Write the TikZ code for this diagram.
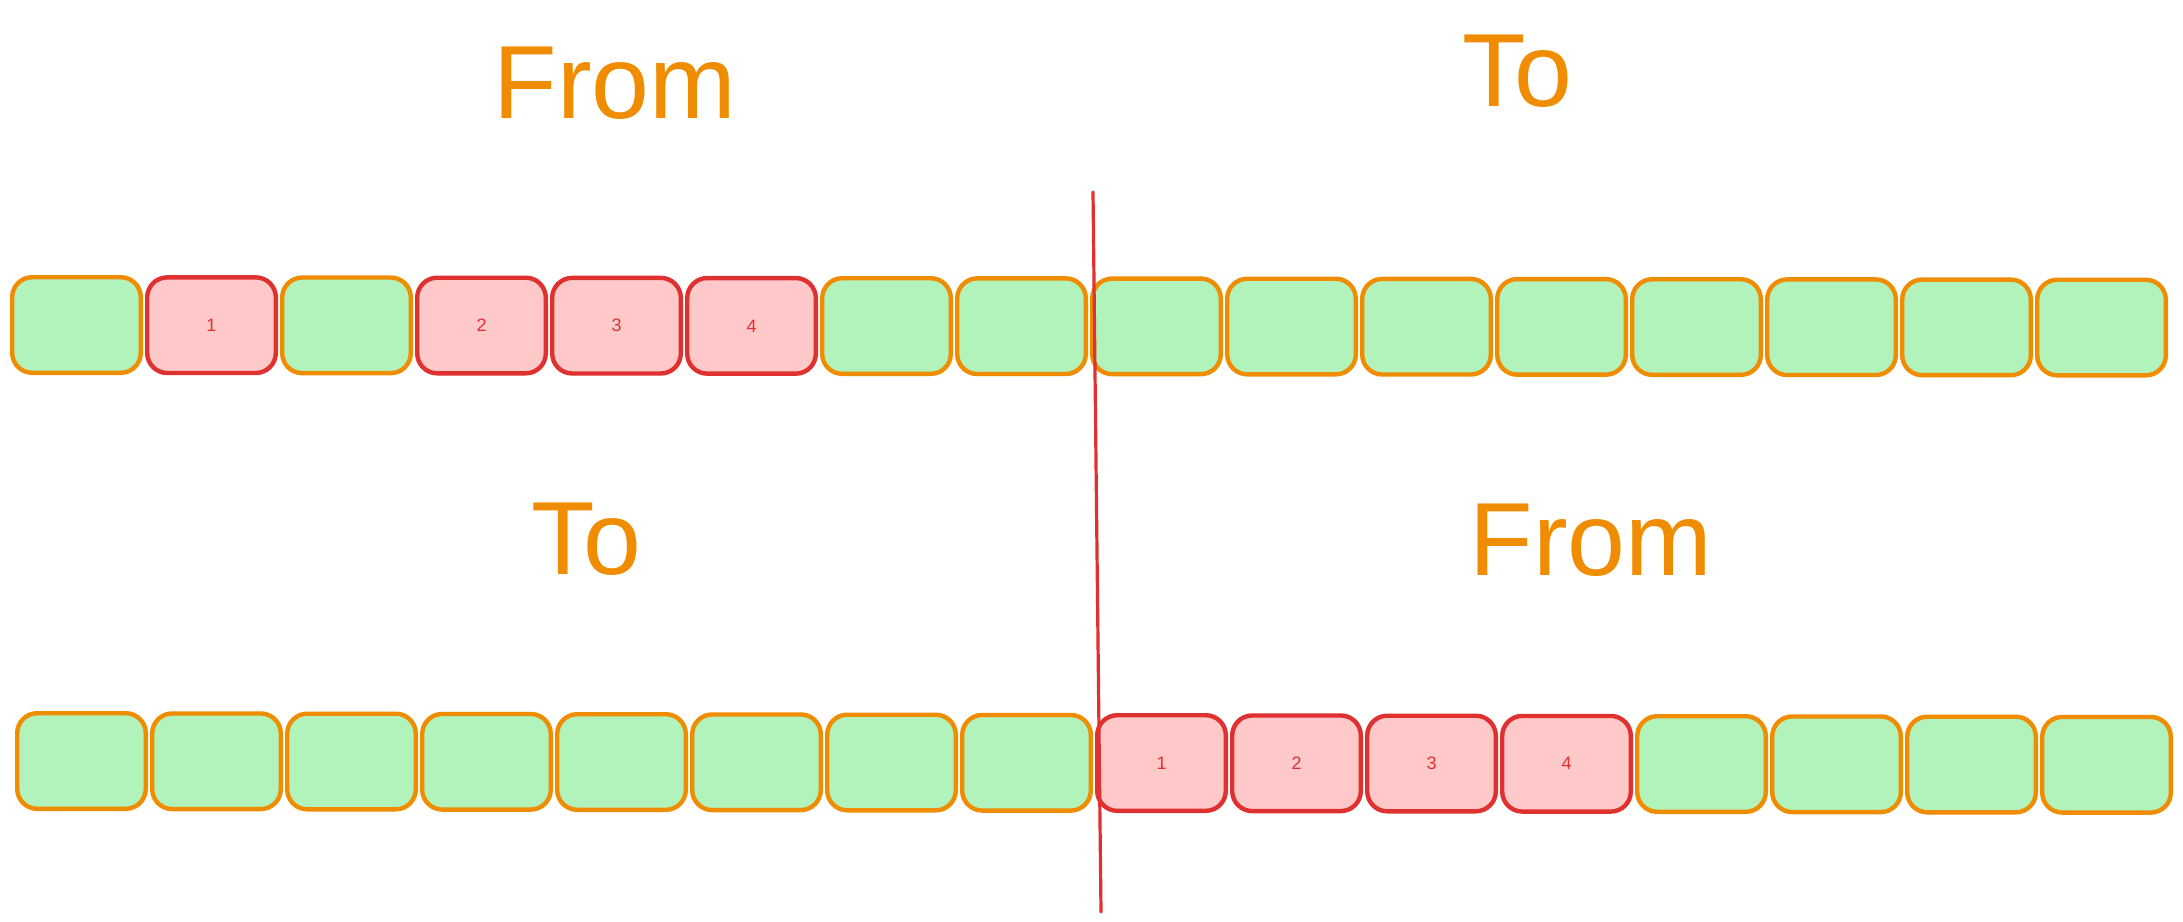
\documentclass[tikz,border=0pt]{standalone}
\usepackage{fontspec}
\setmainfont{Liberation Sans}
\definecolor{exOrange}{HTML}{F08C00}
\definecolor{exGreen}{HTML}{B2F2BB}
\definecolor{exRed}{HTML}{E03131}
\definecolor{exPink}{HTML}{FFC9C9}
\begin{document}
\begin{tikzpicture}[x=0.5pt,y=-0.5pt,
  cell/.style={rounded corners=10pt, line width=2.2pt, minimum width=64.3pt, minimum height=47.8pt, inner sep=0pt, font=\fontsize{9}{10}\selectfont, text=exRed},
  gbox/.style={cell, draw=exOrange, fill=exGreen},
  rbox/.style={cell, draw=exRed, fill=exPink},
  title/.style={text=exOrange, font=\fontsize{52}{60}\selectfont, anchor=base, inner sep=0pt},
  cut/.style={draw=exRed, line width=1.6pt, line cap=round}]
\fill[white] (0,0) rectangle (2183,921);
\useasboundingbox (0,0) rectangle (2183,921);
% top row
\foreach \i/\s/\l in {1/gbox/,2/rbox/1,3/gbox/,4/rbox/2,5/rbox/3,6/rbox/4,7/gbox/,8/gbox/,9/gbox/,10/gbox/,11/gbox/,12/gbox/,13/gbox/,14/gbox/,15/gbox/,16/gbox/}
  \node[\s] (t\i) at ({76.5+135*(\i-1)}, {325+0.17*(\i-1)}) {\l};
% bottom row
\foreach \i/\s/\l in {1/gbox/,2/gbox/,3/gbox/,4/gbox/,5/gbox/,6/gbox/,7/gbox/,8/gbox/,9/rbox/1,10/rbox/2,11/rbox/3,12/rbox/4,13/gbox/,14/gbox/,15/gbox/,16/gbox/}
  \node[\s] (b\i) at ({81.5+135*(\i-1)}, {761+0.25*(\i-1)}) {\l};
% titles
\node[title] (fromTop) at (615,118) {From};
\node[title] (toTop) at (1517,106) {To};
\node[title] (toBot) at (586,574) {To};
\node[title] (fromBot) at (1591,575) {From};
% cut line
\coordinate (cutTop) at (1093,192);
\coordinate (cutBot) at (1101,912);
\draw[cut] (cutTop) -- (cutBot);
\end{tikzpicture}
\end{document}
